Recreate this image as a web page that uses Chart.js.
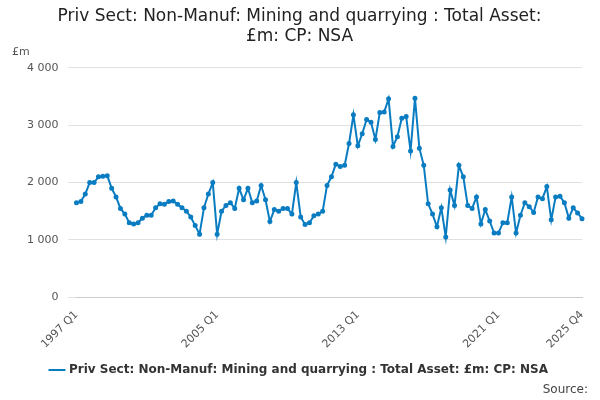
<!DOCTYPE html>
<html>
<head>
<meta charset="utf-8">
<script src="https://cdn.jsdelivr.net/npm/chart.js@4"></script>
<style>
  body { margin: 0; font-family: "DejaVu Sans", sans-serif; }
  #wrap { position: relative; width: 600px; height: 400px; }
  #unit { position: absolute; left: 12px; top: 45px; font-size: 11px; color: #555; }
  #source { position: absolute; right: 12px; top: 382px; font-size: 12px; color: #444; }
</style>
</head>
<body>
<div id="wrap">
  <canvas id="chart" width="600" height="400"></canvas>
  <div id="unit">£m</div>
  <div id="source">Source:</div>
</div>
<script>
// Quarterly values, 1997 Q1 .. 2025 Q4
const years = [];
for (let y = 1997; y <= 2025; y++) years.push(y);
const quarters = ["Q1", "Q2", "Q3", "Q4"];
const labels = [];
for (const y of years) for (const q of quarters) labels.push(y + " " + q);

const shownTicks = ["1997 Q1", "2005 Q1", "2013 Q1", "2021 Q1", "2025 Q4"];

const values = [
  1650, 1670, 1800, 2000, 2000, 2100, 2110, 2120, 1900, 1750,
  1550, 1450, 1300, 1280, 1300, 1380, 1430, 1430, 1560, 1630,
  1620, 1670, 1680, 1620, 1560, 1500, 1400, 1250, 1100, 1560,
  1800, 2000, 1100, 1500, 1600, 1650, 1550, 1900, 1700, 1900,
  1650, 1680, 1950, 1700, 1320, 1530, 1500, 1550, 1550, 1450,
  2000, 1400, 1270, 1300, 1420, 1450, 1500, 1950, 2100, 2320,
  2280, 2300, 2680, 3180, 2640, 2850, 3100, 3050, 2750, 3220,
  3230, 3460, 2630, 2800, 3120, 3150, 2550, 3470, 2600, 2300,
  1630, 1450, 1230, 1560, 1050, 1870, 1600, 2300, 2100, 1600,
  1550, 1750, 1280, 1530, 1330, 1120, 1120, 1300, 1300, 1750,
  1120, 1430, 1650, 1580, 1480, 1750, 1720, 1930, 1350, 1750,
  1760, 1650, 1380, 1560, 1470, 1370
];

const seriesName = "Priv Sect: Non-Manuf: Mining and quarrying : Total Asset: £m: CP: NSA";

new Chart(document.getElementById("chart").getContext("2d"), {
  type: "line",
  data: {
    labels: labels,
    datasets: [{
      label: seriesName,
      data: values,
      borderColor: "#0a7cc1",
      backgroundColor: "#0a7cc1",
      borderWidth: 2,
      pointRadius: 1.5,
      tension: 0
    }]
  },
  options: {
    responsive: false,
    animation: false,
    layout: { padding: { left: 17, right: 18, top: 0, bottom: 14 } },
    plugins: {
      title: {
        display: true,
        text: ["Priv Sect: Non-Manuf: Mining and quarrying : Total Asset:", "£m: CP: NSA"],
        color: "#222",
        font: { family: "DejaVu Sans", size: 17, weight: "normal" },
        padding: { top: 6, bottom: 21 }
      },
      legend: {
        position: "bottom",
        labels: {
          color: "#333",
          font: { family: "DejaVu Sans", size: 12, weight: "bold" },
          usePointStyle: true,
          pointStyle: "line",
          boxWidth: 20
        }
      }
    },
    scales: {
      x: {
        grid: { display: false, drawTicks: true },
        border: { color: "#ccc" },
        ticks: {
          autoSkip: false,
          maxRotation: 45,
          minRotation: 45,
          color: "#555",
          font: { family: "DejaVu Sans", size: 11 },
          callback: function (v, i) {
            return shownTicks.includes(labels[i]) ? labels[i] : null;
          }
        }
      },
      y: {
        min: 0,
        max: 4000,
        grid: { color: "#e0e0e0" },
        border: { display: false },
        ticks: {
          stepSize: 1000,
          padding: 10,
          color: "#555",
          font: { family: "DejaVu Sans", size: 11 },
          callback: v => v >= 1000 ? Math.floor(v / 1000) + " " + String(v % 1000).padStart(3, "0") : v
        }
      }
    }
  }
});
</script>
</body>
</html>
